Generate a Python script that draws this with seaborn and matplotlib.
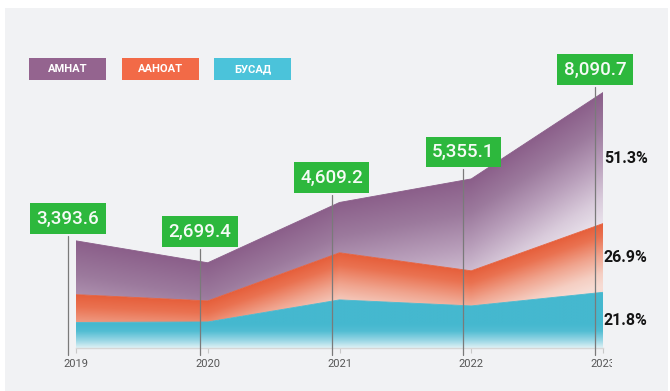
import numpy as np
import matplotlib
matplotlib.use("Agg")
import matplotlib.pyplot as plt
import seaborn as sns
from matplotlib.colors import LinearSegmentedColormap
from matplotlib.patches import Rectangle
from matplotlib.transforms import Bbox

# ---- data -------------------------------------------------------------
years = [2019, 2020, 2021, 2022, 2023]
amnat = [1703.6, 1207.4, 1593.2, 2911.1, 4150.5]   # АМНАТ
aanoat = [880.0, 667.0, 1492.0, 1111.0, 2176.4]    # ААНОАТ
busad = [810.0, 825.0, 1524.0, 1333.0, 1763.8]     # БУСАД
series_names = ["АМНАТ", "ААНОАТ", "БУСАД"]

# ---- figure setup -----------------------------------------------------
W, H = 670, 391
sns.set_theme(style="white")
plt.rcParams["font.family"] = ["Roboto", "DejaVu Sans"]

fig = plt.figure(figsize=(W / 100, H / 100), dpi=100, facecolor="white")
fig.add_artist(Rectangle((5 / W, 0), (668 - 5) / W, (H - 8) / H,
                         transform=fig.transFigure, facecolor="#f1f2f4",
                         edgecolor="none", zorder=0))

plot_w, plot_h = 527, 300
ymax = 9500
ax = fig.add_axes([76 / W, 43 / H, plot_w / W, plot_h / H])
ax.patch.set_alpha(0)
ppu = plot_h / ymax                      # pixels per value unit
ppx = plot_w / (years[-1] - years[0])   # pixels per year

b0 = np.zeros(len(years))
b1 = np.array(busad)
b2 = b1 + np.array(aanoat)
b3 = b2 + np.array(amnat)
totals = b3

# gradients: upper bands fade downward from their top edge,
# the bottom band fades out toward the baseline
cmap_purple = LinearSegmentedColormap.from_list(
    "purple", [(0, "#8b5f8a"), (0.25, "#9c7a9d"), (0.5, "#b89eba"),
               (0.78, "#d9cbdb"), (1, "#ece6ee")])
cmap_orange = LinearSegmentedColormap.from_list(
    "orange", [(0, "#e65f3b"), (0.2, "#ea7251"), (0.5, "#f0a48e"),
               (0.8, "#f5cec2"), (1, "#f7dcd4")])
cmap_cyan = LinearSegmentedColormap.from_list(
    "cyan", [(0, "#ddf1f5"), (0.3, "#9bd7e5"), (0.7, "#52bdd3"), (1, "#45b8cf")])

bands = [(b0, b1, cmap_cyan, "#45b8cf", "bottom", 24),
         (b1, b2, cmap_orange, "#e65f3b", "top", 62),
         (b2, b3, cmap_purple, "#8b5f8a", "top", 135)]

nx, ny = 900, 700
xs = np.linspace(years[0], years[-1], nx)
ys = np.linspace(0, ymax, ny)
for lo, hi, cmap, edge, anchor, fade_px in bands:
    lower = np.interp(xs, years, lo)
    upper = np.interp(xs, years, hi)
    if anchor == "top":
        s = (upper[None, :] - ys[:, None]) * ppu / fade_px
    else:
        s = (ys[:, None] - lower[None, :]) * ppu / fade_px
        s = np.broadcast_to(s, (ny, nx))
    rgba = cmap(np.clip(s, 0, 1))
    im = ax.imshow(rgba, extent=(years[0], years[-1], 0, ymax), origin="lower",
                   aspect="auto", interpolation="bilinear", zorder=1)
    poly = ax.fill_between(years, lo, hi, facecolor="none", edgecolor="none")
    im.set_clip_path(poly.get_paths()[0], transform=ax.transData)
    sns.lineplot(x=years, y=hi, color=edge, linewidth=0.6, ax=ax, zorder=2)

ax.set_xlim(years[0], years[-1])
ax.set_ylim(0, ymax)

# ---- axes styling -----------------------------------------------------
for side in ["left", "right", "top"]:
    ax.spines[side].set_visible(False)
ax.spines["bottom"].set_color("#d6d6d6")
ax.spines["bottom"].set_linewidth(1.0)
ax.set_yticks([])
ax.set_xticks(years)
ax.set_xticklabels([str(y) for y in years])
ax.tick_params(axis="x", bottom=True, length=3.6, width=0.8, color="#c8c8c8",
               labelsize=8, labelcolor="#555555", pad=4.3)
clip = Bbox.from_extents(0, 0, 612, H)
for lab in ax.get_xticklabels():
    lab.set_clip_box(clip)
    lab.set_clip_on(True)

# ---- total labels with leader lines -----------------------------------
lift_px = [22, 31, 25, 27, 23]
box_half_h = 17.5
for yr, tot, lift in zip(years, totals, lift_px):
    cx = yr - 8 / ppx
    cy = tot + lift / ppu
    ax.plot([cx, cx], [-7 / ppu, cy - box_half_h / ppu], color="#7a7a7a",
            linewidth=0.9, clip_on=False, zorder=4)
    ax.text(cx, cy, f"{tot:,.1f}", ha="center", va="center", color="#f6fbf6",
            fontsize=13.5, fontweight="medium", clip_on=False, zorder=5,
            bbox=dict(boxstyle="square,pad=0.34", facecolor="#2db83d", edgecolor="none"))

# ---- share of each series in the last year ----------------------------
for lo, hi in [(b2, b3), (b1, b2), (b0, b1)]:
    share = (hi[-1] - lo[-1]) / totals[-1] * 100
    ax.text(years[-1] + 1 / ppx, (lo[-1] + hi[-1]) / 2, f"{share:.1f}%",
            ha="left", va="center", fontsize=11.5, fontweight="bold",
            color="#141414", clip_on=False, zorder=5)

# ---- legend -----------------------------------------------------------
legend_colors = ["#94648f", "#f26a47", "#4bc3da"]
legend_x = [29, 122, 214]
for name, col, x0 in zip(series_names, legend_colors, legend_x):
    fig.add_artist(Rectangle((x0 / W, (H - 80) / H), 77 / W, 22 / H,
                             transform=fig.transFigure, facecolor=col,
                             edgecolor="none", zorder=3))
    fig.text((x0 + 38.5) / W, (H - 69) / H, name, ha="center", va="center",
             color="white", fontsize=8, fontweight="bold", zorder=4)

fig.savefig("out.png", dpi=100, facecolor="white")
